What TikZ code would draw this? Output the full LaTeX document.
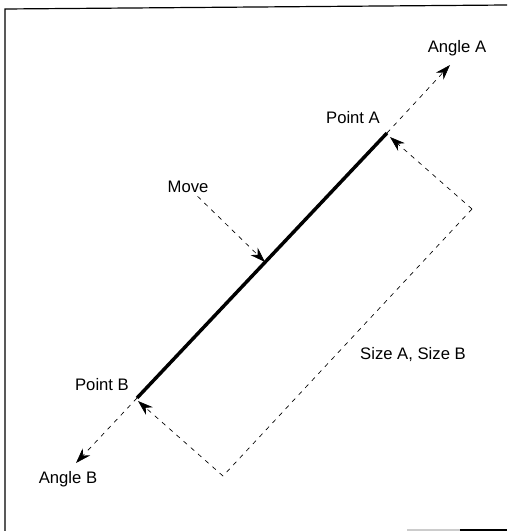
\documentclass[tikz,border=0pt]{standalone}
\usepackage{fontspec}
\setmainfont{Liberation Sans}
\usetikzlibrary{arrows.meta}
\tikzset{
  seg/.style={line width=2.6pt, line cap=butt},
  guide/.style={line width=0.5pt, dash pattern=on 3.4pt off 3.8pt},
  pointer/.style={guide, -{Stealth[length=4mm, width=2.7mm]}},
  tag/.style={font=\fontsize{12.5}{14}\selectfont, inner sep=1pt},
}
\begin{document}
\begin{tikzpicture}[x=0.75pt, y=-0.75pt]
\useasboundingbox (0,0) rectangle (507,531);

% frame of the scan
\draw[line width=0.9pt] (5,531) -- (5,9) -- (507,5);
\draw[gray!40, line width=0.8pt] (407,530) -- (460,530);
\draw[line width=0.8pt] (460,530) -- (507,530);

\coordinate (ptA) at (387,133);
\coordinate (ptB) at (137,398);
\coordinate (mid) at (265,262);
\coordinate (tipA) at (450,65);
\coordinate (tipB) at (76,463);
\coordinate (hitA) at (390,137);
\coordinate (hitB) at (138,401);
\coordinate (cornA) at (472,209);
\coordinate (cornB) at (223,476);

\node[tag] (angA) at (457,48) {Angle A};
\node[tag] (pntA) at (353,118) {Point A};
\node[tag] (move) at (188,187) {Move};
\node[tag] (size) at (413,355) {Size A, Size B};
\node[tag] (pntB) at (102,385) {Point B};
\node[tag] (angB) at (68,479) {Angle B};

\draw[seg] (ptB) -- (ptA);

\draw[pointer] (ptA) -- (tipA);
\draw[pointer] (ptB) -- (tipB);
\draw[pointer, shorten <=2pt] (move) -- (mid);

% the size box
\draw[pointer] (cornA) -- (hitA);
\draw[pointer] (cornB) -- (hitB);
\draw[guide] (cornA) -- (cornB);

\end{tikzpicture}
\end{document}
